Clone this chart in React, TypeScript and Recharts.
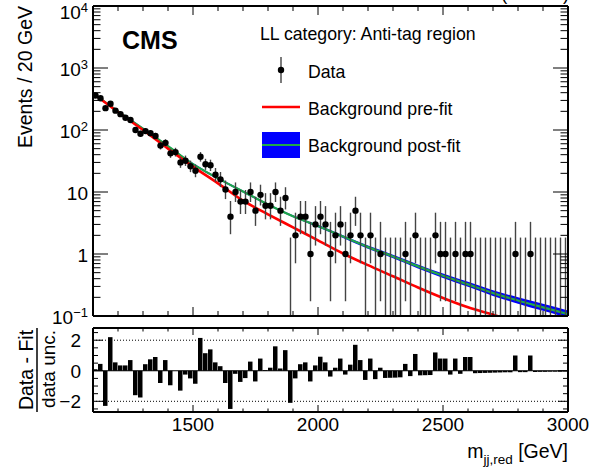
import React from 'react';
import {
  ComposedChart,
  Line,
  Area,
  Scatter,
  ErrorBar,
  Bar,
  XAxis,
  YAxis,
  ReferenceLine,
} from 'recharts';

const FONT = '"Liberation Sans", Arial, Helvetica, sans-serif';

// 20 GeV bins from 1100 to 3000 GeV
const BIN_START = 1100;
const BIN_WIDTH = 20;

// observed events per bin
const COUNTS = [
  360, 325, 225, 265, 205, 180, 158, 145, 100, 87,
  96, 89, 80, 56, 62, 42, 44, 30, 32, 26,
  22, 37, 28, 27, 19, 16, 11, 4, 10, 7,
  7, 10, 5, 9, 6, 6, 10, 5, 8, 0,
  2, 4, 4, 1, 3, 4, 3, 1, 2, 3,
  1, 2, 5, 2, 0, 2, 0, 1, 0, 0,
  0, 0, 1, 0, 2, 0, 0, 0, 2, 1,
  1, 0, 1, 0, 1, 1, 0, 0, 0, 0,
  0, 0, 0, 0, 1, 0, 0, 1, 0, 0,
  0, 0, 0, 0, 0,
];

// (data - fit) / data unc. per bin
const PULLS = [
  0.1, 0.45, -2.3, 2.2, 0.55, 0.35, 0.35, 0.7, -1.6, -1.75,
  0.43, 0.75, 0.9, -0.8, 0.7, -0.95, 0.0, -1.3, -0.25, -0.5,
  -0.85, 2.15, 1.15, 1.4, 0.55, 0.3, -0.8, -2.5, -0.2, -0.73,
  -0.48, 0.6, -0.7, 0.8, 0.05, 0.2, 1.6, 0.15, 1.35, -2.1,
  -0.5, 0.43, 0.55, -0.7, 0.35, 0.92, 0.55, -0.38, 0.2, 0.8,
  -0.25, 0.4, 1.7, 0.7, -0.6, 0.8, -0.55, 0.2, -0.47, -0.46,
  -0.45, -0.43, 0.45, -0.35, 1.1, -0.3, -0.29, -0.28, 1.2, 0.8,
  0.8, -0.25, 0.8, -0.2, 0.9, 0.9, -0.16, -0.15, -0.14, -0.13,
  -0.12, -0.11, -0.1, -0.1, 1.0, -0.09, -0.09, 1.0, -0.08, -0.07,
  -0.07, -0.06, -0.06, -0.06, -0.05,
];

// background curves, read every 100 GeV
const CURVE_MASS = [
  1100, 1200, 1300, 1400, 1500, 1600, 1700, 1800, 1900, 2000,
  2100, 2200, 2300, 2400, 2500, 2600, 2700, 2800, 2900, 3000,
];
const PREFIT = [
  389, 195, 100, 50.1, 25.7, 13.8, 7.24, 4.37, 2.69, 1.66,
  1.02, 0.661, 0.437, 0.288, 0.195, 0.138, 0.105, 0.079, 0.06, 0.047,
];
const POSTFIT = [
  389, 200, 105, 55, 28.2, 16.6, 10.2, 6.31, 4.07, 2.82,
  1.91, 1.29, 0.912, 0.631, 0.447, 0.324, 0.234, 0.178, 0.138, 0.107,
];
const POSTFIT_LO = [
  375, 193, 101, 53, 27.2, 16.0, 9.83, 6.08, 3.92, 2.7,
  1.81, 1.21, 0.852, 0.585, 0.412, 0.295, 0.211, 0.158, 0.121, 0.093,
];
const POSTFIT_HI = [
  404, 208, 109, 57, 29.3, 17.2, 10.6, 6.55, 4.22, 2.95,
  2.01, 1.37, 0.976, 0.68, 0.485, 0.356, 0.26, 0.2, 0.157, 0.123,
];

// Garwood 68% intervals for small counts
const POISSON_LO = [0, 0.827, 1.292, 1.633, 1.914, 2.16, 2.38, 2.581, 2.768, 2.943, 3.109];
const POISSON_HI = [1.841, 2.3, 2.638, 2.918, 3.163, 3.382, 3.584, 3.77, 3.945, 4.11, 4.267];

const X_TICKS = [
  1200, 1300, 1400, 1500, 1600, 1700, 1800, 1900, 2000, 2100,
  2200, 2300, 2400, 2500, 2600, 2700, 2800, 2900, 3000,
];
const Y_DECADES = [0.1, 1, 10, 100, 1000, 10000];
const Y_MINOR = [2, 3, 4, 5, 6, 7, 8, 9];
const PULL_TICKS = [-2.5, -2, -1.5, -1, -0.5, 0, 0.5, 1, 1.5, 2, 2.5];
const PULL_MAJOR = [-2, 0, 2];

const TOP_Y_TICKS = Y_DECADES.flatMap((d, i) =>
  i < Y_DECADES.length - 1 ? [d, ...Y_MINOR.map((m) => m * d)] : [d]
);

// plot area geometry (px)
const PLOT_W = 475;
const TOP_H = 310;
const PULL_H = 84;

const points = COUNTS.map((n, i) => {
  const lo = n <= 10 ? POISSON_LO[n] : Math.sqrt(n);
  const hi = n <= 10 ? POISSON_HI[n] : Math.sqrt(n) + 1;
  return {
    x: BIN_START + BIN_WIDTH * (i + 0.5),
    y: n > 0 ? n : 0.1,
    n,
    err: n > 0 ? [lo, hi] : [0, POISSON_HI[0] - 0.1],
  };
});

const curves = CURVE_MASS.map((x, i) => ({
  x,
  pre: PREFIT[i],
  post: POSTFIT[i],
  band: [POSTFIT_LO[i], POSTFIT_HI[i]],
}));

const pulls = PULLS.map((p, i) => ({ x: BIN_START + BIN_WIDTH * (i + 0.5), pull: p }));

const isDecade = (v: number) => Y_DECADES.some((d) => Math.abs(v / d - 1) < 1e-6);

function decadeLabel(v: number, x: number, y: number) {
  const exp = Math.round(Math.log10(v));
  const base = y + 8.3 + (exp === 4 ? 4.5 : 0);
  if (exp === 0 || exp === 1) {
    return (
      <text x={x - 5} y={base} textAnchor="end" fontSize={19} fontFamily={FONT} fill="#000">
        {exp === 0 ? '1' : '10'}
      </text>
    );
  }
  return (
    <text x={x - 5} y={base} textAnchor="end" fontSize={19} fontFamily={FONT} fill="#000">
      10
      <tspan dy={-7} fontSize={13}>
        {exp < 0 ? `\u2212${-exp}` : exp}
      </tspan>
    </text>
  );
}

function TopYTick(props: any) {
  const { x, y, payload } = props;
  const major = isDecade(payload.value);
  const len = major ? 15 : 7.5;
  return (
    <g>
      <line x1={x} x2={x + len} y1={y} y2={y} stroke="#000" strokeWidth={1} />
      <line x1={x + PLOT_W - len} x2={x + PLOT_W} y1={y} y2={y} stroke="#000" strokeWidth={1} />
      {major && decadeLabel(payload.value, x, y)}
    </g>
  );
}

function TopXTick(props: any) {
  const { x, y, payload } = props;
  const len = payload.value % 500 === 0 ? 9 : 5;
  return (
    <g>
      <line x1={x} x2={x} y1={y} y2={y - len} stroke="#000" strokeWidth={1} />
      <line x1={x} x2={x} y1={y - TOP_H} y2={y - TOP_H + len} stroke="#000" strokeWidth={1} />
    </g>
  );
}

function PullXTick(props: any) {
  const { x, y, payload } = props;
  const major = payload.value % 500 === 0;
  const len = major ? 7 : 3.5;
  return (
    <g>
      <line x1={x} x2={x} y1={y} y2={y - len} stroke="#000" strokeWidth={1} />
      <line x1={x} x2={x} y1={y - PULL_H} y2={y - PULL_H + len} stroke="#000" strokeWidth={1} />
      {major && (
        <text x={x} y={y + 19} textAnchor="middle" fontSize={19} fontFamily={FONT} fill="#000">
          {payload.value}
        </text>
      )}
    </g>
  );
}

function PullYTick(props: any) {
  const { x, y, payload } = props;
  const v = payload.value;
  const major = PULL_MAJOR.includes(v);
  const len = major ? 10 : 5;
  return (
    <g>
      <line x1={x} x2={x + len} y1={y} y2={y} stroke="#000" strokeWidth={1} />
      <line x1={x + PLOT_W - len} x2={x + PLOT_W} y1={y} y2={y} stroke="#000" strokeWidth={1} />
      {major && (
        <text x={x - 12} y={y + 7} textAnchor="end" fontSize={19} fontFamily={FONT} fill="#000">
          {v < 0 ? `\u2212${-v}` : v}
        </text>
      )}
    </g>
  );
}

const renderDot = (p: any) =>
  p.payload.n > 0 ? <circle cx={p.cx} cy={p.cy} r={3.2} fill="#000" /> : <g />;

const frame = { stroke: '#000', strokeWidth: 2 };

export default function App() {
  return (
    <div style={{ position: 'absolute', left: 0, top: 0, width: 593, height: 468, background: '#fff' }}>
      <div style={{ position: 'absolute', left: 0, top: 0 }}>
        <ComposedChart width={593} height={330} margin={{ top: 6, right: 25, bottom: 13, left: 0 }}>
          <XAxis
            type="number"
            dataKey="x"
            domain={[1100, 3000]}
            ticks={X_TICKS}
            interval={0}
            tick={(p: any) => <TopXTick {...p} />}
            tickLine={false}
            tickSize={0}
            tickMargin={0}
            height={1}
            axisLine={frame}
            allowDataOverflow
          />
          <YAxis
            type="number"
            scale="log"
            domain={[0.1, 10000]}
            ticks={TOP_Y_TICKS}
            interval={0}
            tick={(p: any) => <TopYTick {...p} />}
            tickLine={false}
            tickSize={0}
            tickMargin={0}
            width={93}
            axisLine={frame}
            allowDataOverflow
          />
          <Area
            data={curves}
            dataKey="band"
            type="monotone"
            fill="#0000ff"
            fillOpacity={1}
            stroke="none"
            isAnimationActive={false}
          />
          <Line
            data={curves}
            dataKey="post"
            type="monotone"
            stroke="#1fa84a"
            strokeWidth={2.2}
            dot={false}
            isAnimationActive={false}
          />
          <Line
            data={curves}
            dataKey="pre"
            type="monotone"
            stroke="#ff0000"
            strokeWidth={2.6}
            dot={false}
            isAnimationActive={false}
          />
          <Scatter data={points} dataKey="y" shape={renderDot} isAnimationActive={false}>
            <ErrorBar dataKey="err" direction="y" width={0} stroke="#444" strokeWidth={1.4} />
          </Scatter>
          <ReferenceLine y={10000} {...frame} />
          <ReferenceLine x={3000} {...frame} />
        </ComposedChart>
      </div>

      <div style={{ position: 'absolute', left: 0, top: 320 }}>
        <ComposedChart
          width={593}
          height={148}
          data={pulls}
          margin={{ top: 8, right: 25, bottom: 26, left: 0 }}
        >
          <XAxis
            type="number"
            dataKey="x"
            domain={[1100, 3000]}
            ticks={X_TICKS}
            interval={0}
            tick={(p: any) => <PullXTick {...p} />}
            tickLine={false}
            tickSize={0}
            tickMargin={0}
            height={30}
            axisLine={frame}
            allowDataOverflow
          />
          <YAxis
            type="number"
            domain={[-2.7, 2.8]}
            ticks={PULL_TICKS}
            interval={0}
            tick={(p: any) => <PullYTick {...p} />}
            tickLine={false}
            tickSize={0}
            tickMargin={0}
            width={93}
            axisLine={frame}
            allowDataOverflow
          />
          <ReferenceLine y={2} stroke="#000" strokeWidth={1} strokeDasharray="1 2" />
          <ReferenceLine y={-2} stroke="#000" strokeWidth={1} strokeDasharray="1 2" />
          <Bar dataKey="pull" fill="#000" barSize={5} isAnimationActive={false} />
          <ReferenceLine y={0} stroke="#000" strokeWidth={1} />
          <ReferenceLine y={2.8} {...frame} />
          <ReferenceLine x={3000} {...frame} />
        </ComposedChart>
      </div>

      <svg
        width={593}
        height={468}
        style={{ position: 'absolute', left: 0, top: 0, pointerEvents: 'none' }}
        fontFamily={FONT}
      >
        {/* lumi label sits above the page edge, as in the original: only the paren tails show */}
        <text x={569} y={-0.5} textAnchor="end" fontSize={18}>
          35.9 fb<tspan dy={-6} fontSize={12}>{'\u22121'}</tspan>
          <tspan dy={6}> (13 TeV)</tspan>
        </text>
        <text x={122} y={49} fontSize={25} fontWeight="bold">
          CMS
        </text>
        <text x={260} y={40} fontSize={17.7}>
          LL category: Anti-tag region
        </text>

        <line x1={281} x2={281} y1={57} y2={83} stroke="#444" strokeWidth={1.4} />
        <circle cx={281} cy={70} r={3.2} fill="#000" />
        <text x={308} y={78} fontSize={17.7}>
          Data
        </text>
        <line x1={262} x2={300} y1={107} y2={107} stroke="#ff0000" strokeWidth={2.6} />
        <text x={308} y={114.5} fontSize={17.7}>
          Background pre-fit
        </text>
        <rect x={262} y={132} width={38} height={26} fill="#0000ff" />
        <line x1={262} x2={300} y1={145} y2={145} stroke="#1fa84a" strokeWidth={2.2} />
        <text x={308} y={152} fontSize={17.7}>
          Background post-fit
        </text>

        <text transform="translate(32,6) rotate(-90)" textAnchor="end" fontSize={19.5}>
          Events / 20 GeV
        </text>
        <text transform="translate(33,370) rotate(-90)" textAnchor="middle" fontSize={19.5}>
          Data - Fit
        </text>
        <line x1={37} x2={37} y1={328} y2={412} stroke="#000" strokeWidth={1.5} />
        <text transform="translate(54.5,369) rotate(-90)" textAnchor="middle" fontSize={19}>
          data unc.
        </text>

        <text x={568} y={458} textAnchor="end" fontSize={19.5}>
          m<tspan dy={6} fontSize={13.5}>jj,red</tspan>
          <tspan dy={-6}> [GeV]</tspan>
        </text>
      </svg>
    </div>
  );
}
